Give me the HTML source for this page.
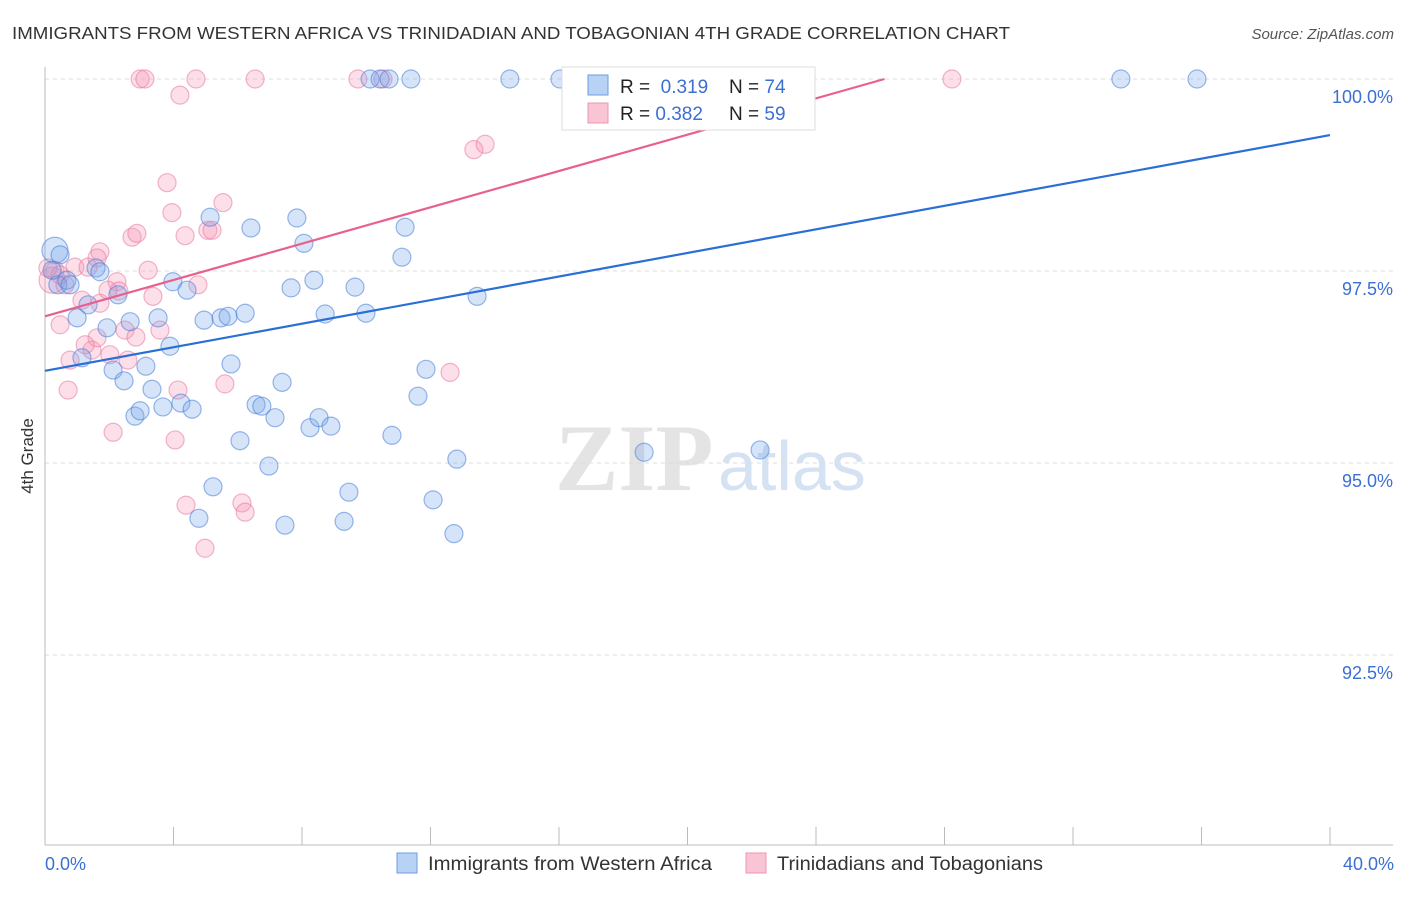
<!DOCTYPE html>
<html><head><meta charset="utf-8"><style>
body{margin:0;background:#fff;font-family:"Liberation Sans",sans-serif;}
svg text{font-family:"Liberation Sans",sans-serif;}
</style></head><body>
<svg id="chart" width="1406" height="892">
<text x="12" y="39" font-size="17.5" fill="#333" textLength="998" lengthAdjust="spacingAndGlyphs">IMMIGRANTS FROM WESTERN AFRICA VS TRINIDADIAN AND TOBAGONIAN 4TH GRADE CORRELATION CHART</text>
<text x="1394" y="39" font-size="15" fill="#555" font-style="italic" text-anchor="end">Source: ZipAtlas.com</text>
<text x="555" y="490" font-size="95" fill="#e4e4e4" font-family="Liberation Serif" font-weight="bold" style="font-family:'Liberation Serif',serif">ZIP</text>
<text x="718" y="490" font-size="70" fill="#d5e2f3">atlas</text>
<g id="grid"></g>
<g id="axes"></g>
<g id="pts"></g>
<g id="lines"></g>
<text x="33" y="456" font-size="17" fill="#333" text-anchor="middle" transform="rotate(-90 33 456)">4th Grade</text>
<text x="45" y="870" font-size="18" fill="#3b6fd4">0.0%</text>
<text x="1394" y="870" font-size="18" fill="#3b6fd4" text-anchor="end">40.0%</text>
<g>
<rect x="562" y="67" width="253" height="63" fill="#fff" stroke="#ddd"/>
<rect x="588" y="75" width="20" height="20" fill="#b8d2f5" stroke="#6f9be0"/>
<rect x="588" y="103" width="20" height="20" fill="#f9c4d4" stroke="#ec94b2"/>
<text x="620" y="93" font-size="19" fill="#222">R = <tspan fill="#3b6fd4">&#160;0.319</tspan><tspan x="729">N = </tspan><tspan fill="#3b6fd4">74</tspan></text>
<text x="620" y="120" font-size="19" fill="#222">R = <tspan fill="#3b6fd4">0.382</tspan><tspan x="729">N = </tspan><tspan fill="#3b6fd4">59</tspan></text>
</g>
<g>
<rect x="397" y="853" width="20" height="20" fill="#b8d2f5" stroke="#6f9be0"/>
<text x="428" y="870" font-size="19" fill="#333" textLength="284" lengthAdjust="spacingAndGlyphs">Immigrants from Western Africa</text>
<rect x="746" y="853" width="20" height="20" fill="#f9c4d4" stroke="#ec94b2"/>
<text x="777" y="870" font-size="19" fill="#333" textLength="266" lengthAdjust="spacingAndGlyphs">Trinidadians and Tobagonians</text>
</g>
</svg>
<script>
const yTicks=[100,97.5,95,92.5];
const yTickLabels=["100.0%","97.5%","95.0%","92.5%"];
const xTicks=[0,4,8,12,16,20,24,28,32,36,40];
const blueX=[0.31,0.47,0.22,0.40,0.68,0.78,1.59,1.71,1.34,1.00,1.15,1.93,2.12,2.27,2.46,2.65,3.14,3.33,2.80,2.96,3.52,3.67,3.89,3.98,4.23,4.42,4.58,4.79,4.95,5.14,5.23,5.48,5.70,5.79,6.07,6.23,6.41,6.57,6.75,6.97,7.16,7.38,7.47,7.66,7.84,8.06,8.25,8.37,8.53,8.72,8.90,9.31,9.46,9.65,9.99,10.12,10.43,10.71,10.80,11.11,11.21,11.39,11.61,11.86,12.08,12.73,12.82,13.45,14.47,16.03,16.59,18.65,22.26,33.49,35.86];
const blueY=[97.77,97.71,97.51,97.32,97.38,97.32,97.54,97.49,97.06,96.89,96.37,96.76,96.21,97.19,96.07,96.84,96.26,95.96,95.61,95.68,96.89,95.73,96.52,97.36,95.78,97.25,95.70,94.28,96.86,98.20,94.69,96.89,96.91,96.29,95.29,96.95,98.06,95.76,95.74,94.96,95.59,96.05,94.19,97.28,98.19,97.86,95.46,97.38,95.59,96.94,95.48,94.24,94.62,97.29,96.95,100,100,100,95.36,97.68,98.07,100,95.87,96.22,94.52,94.08,95.05,97.17,100,100,100,95.14,95.17,100,100];
const pinkX=[0.22,0.31,0.47,0.62,0.93,1.15,1.34,1.46,1.62,1.71,2.12,2.24,2.30,2.49,2.58,2.71,2.86,2.96,3.11,3.21,3.36,3.58,3.80,3.95,4.05,4.14,4.20,4.36,4.39,4.70,4.76,4.98,5.07,5.20,5.54,5.60,6.13,6.23,6.54,9.74,10.52,12.61,13.35,13.70,28.23,0.72,1.25,0.78,2.02,1.71,1.62,2.83,1.96,0.47,0.09];
const pinkY=[97.38,97.51,97.45,97.32,97.55,97.12,97.55,96.47,96.63,97.08,95.40,97.36,97.24,96.73,96.34,97.94,97.99,100,100,97.51,97.17,96.73,98.65,98.26,95.30,95.95,99.79,97.96,94.45,100,97.32,93.89,98.03,98.03,98.39,96.03,94.48,94.36,100,100,100,96.18,99.08,99.15,100,95.95,96.54,96.34,96.41,97.75,97.67,96.64,97.25,96.80,97.54];
const blueTrend=[96.2,99.27];
const pinkTrend=[96.91,101.64];
const NS="http://www.w3.org/2000/svg";
const X=v=>45+v/40*1285, Y=v=>79+(100-v)*76.8;
function mk(t,a,p){const e=document.createElementNS(NS,t);for(const k in a)e.setAttribute(k,a[k]);p.appendChild(e);return e;}
const grid=document.getElementById('grid'),axes=document.getElementById('axes'),pts=document.getElementById('pts'),lines=document.getElementById('lines');
yTicks.forEach((t,i)=>{
 const l=mk('line',{x1:45,x2:1393,y1:Y(t),y2:Y(t),stroke:'#ddd','stroke-dasharray':'4,4'},grid);
 
 
 const tx=mk('text',{x:1393,y:Y(t)+24,'font-size':18,fill:'#3b6fd4','text-anchor':'end'},grid);
 tx.textContent=yTickLabels[i];
 
 
});
const ax=mk('line',{x1:45,x2:45,y1:67,y2:845,stroke:'#bbb'},axes);


const bx=mk('line',{x1:45,x2:1393,y1:845,y2:845,stroke:'#bbb'},axes);


xTicks.forEach(t=>{
 const l=mk('line',{x1:X(t),x2:X(t),y1:827,y2:845,stroke:'#bbb'},axes);
 
 
});
pinkX.forEach((x,i)=>{
 const c=mk('circle',{cx:X(x),cy:Y(pinkY[i]),r:i==0?13:9,fill:'rgba(244,150,180,0.3)',stroke:'rgba(232,120,160,0.55)','stroke-width':1.2},pts);
 
 
});
blueX.forEach((x,i)=>{
 const c=mk('circle',{cx:X(x),cy:Y(blueY[i]),r:i==0?13:9,fill:'rgba(120,165,235,0.3)',stroke:'rgba(70,125,215,0.55)','stroke-width':1.2},pts);
 
 
});
const bl=mk('line',{x1:X(0),y1:Y(blueTrend[0]),x2:X(40),y2:Y(blueTrend[1]),stroke:'#2a6fd6','stroke-width':2.2},lines);


const xe=(100-pinkTrend[0])/(pinkTrend[1]-pinkTrend[0])*40;
const pl=mk('line',{x1:X(0),y1:Y(pinkTrend[0]),x2:X(Math.min(40,xe)),y2:Y(Math.min(100,pinkTrend[1])),stroke:'#e8608e','stroke-width':2.2},lines);


</script>
</body></html>
